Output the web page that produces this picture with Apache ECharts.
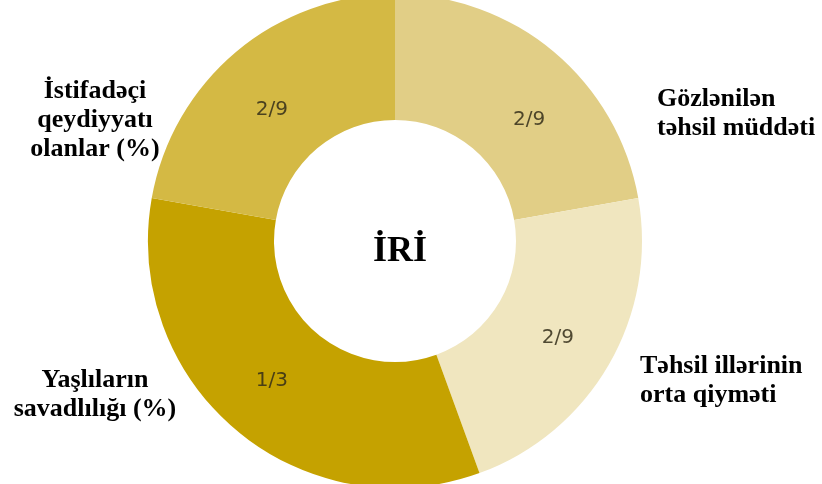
<!DOCTYPE html>
<html>
<head>
<meta charset="utf-8">
<script src="https://cdn.jsdelivr.net/npm/echarts@6/dist/echarts.min.js"></script>
<style>
html,body{margin:0;padding:0;background:#fff;}
#chart{width:822px;height:484px;}
</style>
</head>
<body>
<div id="chart"></div>
<script>
// Data
const categories = [
  "Gözlənilən\ntəhsil müddəti",
  "Təhsil illərinin\norta qiyməti",
  "Yaşlıların\nsavadlılığı (%)",
  "İstifadəçi\nqeydiyyatı\nolanlar (%)"
];
const values = [2, 2, 3, 2];
const sliceLabels = ["2/9", "2/9", "1/3", "2/9"];
const centerTitle = "İRİ";

// Style
const colors = ["#e1ce86", "#f0e6bf", "#c5a200", "#d4b944"];
const namePos = [
  { x: 657, y: 114, align: "left" },
  { x: 640, y: 381, align: "left" },
  { x: 95,  y: 395, align: "center" },
  { x: 95,  y: 120, align: "center" }
];
const labelShift = [
  { dx: 14, dy: 22 },
  { dx: 1, dy: 3 },
  { dx: -3, dy: -3 },
  { dx: -3, dy: 12 }
];
const serif = "'Liberation Serif', 'DejaVu Serif', serif";

const chart = echarts.init(document.getElementById('chart'), null, { renderer: 'canvas' });

const pieData = categories.map((c, i) => ({
  name: c,
  value: values[i],
  itemStyle: { color: colors[i] },
  label: { formatter: sliceLabels[i] }
}));

const graphics = categories.map((c, i) => ({
  type: 'text',
  x: namePos[i].x,
  y: namePos[i].y,
  style: {
    text: c,
    font: "bold 26px " + serif,
    fill: "#000",
    align: namePos[i].align,
    verticalAlign: "middle",
    lineHeight: 29
  }
}));

chart.setOption({
  animation: false,
  backgroundColor: "#fff",
  title: {
    text: centerTitle,
    left: 395,
    top: 247,
    textAlign: "center",
    textVerticalAlign: "middle",
    textStyle: { fontFamily: serif, fontWeight: "bold", fontSize: 36, color: "#000" }
  },
  series: [{
    type: 'pie',
    center: [395, 241],
    radius: [121, 247],
    startAngle: 90,
    clockwise: true,
    avoidLabelOverlap: false,
    data: pieData,
    itemStyle: { borderColor: "#fff", borderWidth: 0 },
    label: {
      show: true,
      position: 'inside',
      fontFamily: "'DejaVu Sans', sans-serif",
      fontSize: 20,
      color: "rgba(50,45,25,0.85)"
    },
    labelLayout: function (p) {
      return { dx: labelShift[p.dataIndex].dx, dy: labelShift[p.dataIndex].dy };
    },
    labelLine: { show: false },
    emphasis: { disabled: true }
  }],
  graphic: graphics
});
</script>
</body>
</html>
